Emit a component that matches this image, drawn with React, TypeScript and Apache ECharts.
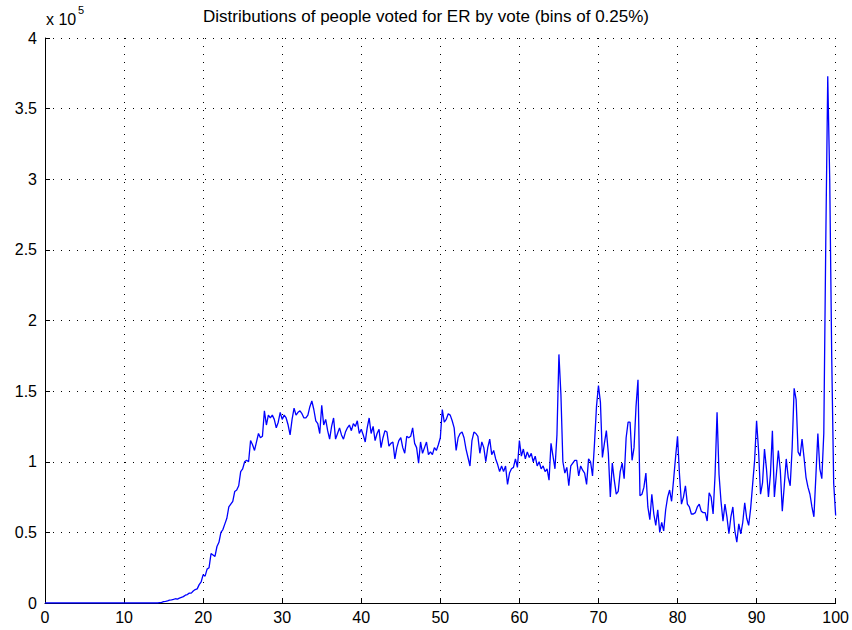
import React, { useEffect, useRef } from "react";
import * as echarts from "echarts";

// Bin width (percent of vote) and bin counts in units of 10^5 people, starting at 0%
const BIN = 0.25;
const X_TICKS = [0, 10, 20, 30, 40, 50, 60, 70, 80, 90, 100];
const Y_TICKS = [0, 0.5, 1, 1.5, 2, 2.5, 3, 3.5, 4];
const TITLE = "Distributions of people voted for ER by vote (bins of 0.25%)";

const counts: number[] = [
  // 0 - 4.75
  0, 0, 0, 0, 0, 0, 0, 0, 0, 0, 0, 0, 0, 0, 0, 0, 0, 0, 0, 0,
  // 5 - 9.75
  0, 0, 0, 0, 0, 0, 0, 0, 0, 0, 0, 0, 0, 0, 0, 0, 0, 0, 0, 0,
  // 10 - 14.75
  0, 0, 0, 0, 0, 0, 0, 0, 0, 0, 0, 0, 0, 0, 0, 0, 0, 0, 0.003, 0.005,
  // 15 - 19.75
  0.01, 0.012, 0.015, 0.02, 0.022, 0.025, 0.03, 0.028, 0.035, 0.04, 0.045, 0.055, 0.06, 0.07, 0.07, 0.085, 0.095, 0.1, 0.13, 0.15,
  // 20 - 24.75
  0.2, 0.19, 0.24, 0.25, 0.35, 0.34, 0.33, 0.4, 0.43, 0.5, 0.52, 0.56, 0.6, 0.68, 0.7, 0.72, 0.79, 0.8, 0.83, 0.93,
  // 25 - 29.75
  0.95, 1.0, 1.01, 1.0, 1.15, 1.12, 1.08, 1.14, 1.2, 1.17, 1.18, 1.36, 1.26, 1.33, 1.31, 1.33, 1.3, 1.24, 1.28, 1.35,
  // 30 - 34.75
  1.3, 1.33, 1.31, 1.26, 1.19, 1.3, 1.38, 1.33, 1.35, 1.36, 1.34, 1.31, 1.31, 1.33, 1.39, 1.43, 1.37, 1.29, 1.27, 1.2,
  // 35 - 39.75
  1.4, 1.26, 1.3, 1.22, 1.16, 1.25, 1.31, 1.16, 1.2, 1.24, 1.19, 1.16, 1.21, 1.24, 1.26, 1.22, 1.27, 1.25, 1.29, 1.2,
  // 40 - 44.75
  1.23, 1.19, 1.14, 1.24, 1.31, 1.2, 1.25, 1.15, 1.2, 1.23, 1.1, 1.17, 1.22, 1.21, 1.11, 1.13, 1.14, 1.02, 1.1, 1.15,
  // 45 - 49.75
  1.17, 1.1, 1.06, 1.18, 1.17, 1.18, 1.24, 1.13, 1.1, 0.99, 1.14, 1.06, 1.1, 1.14, 1.05, 1.07, 1.05, 1.1, 1.08, 1.12,
  // 50 - 54.75
  1.17, 1.37, 1.28, 1.3, 1.34, 1.33, 1.29, 1.24, 1.08, 1.17, 1.2, 1.21, 1.17, 1.09, 1.03, 0.97, 1.15, 1.21, 1.2, 1.18,
  // 55 - 59.75
  1.06, 1.14, 1.1, 1.0, 1.1, 1.16, 1.05, 1.08, 1.02, 0.98, 0.93, 0.97, 0.93, 0.97, 0.84, 0.92, 0.95, 0.96, 1.02, 0.96,
  // 60 - 64.75
  1.15, 1.04, 1.09, 1.02, 1.07, 1.03, 1.06, 1.0, 1.04, 0.97, 1.0, 0.95, 0.97, 0.93, 0.95, 0.87, 1.13, 1.04, 0.95, 1.19,
  // 65 - 69.75
  1.76, 1.48, 1.0, 0.92, 0.96, 0.83, 0.97, 0.99, 1.01, 1.01, 0.9, 0.97, 0.94, 0.92, 0.84, 1.02, 1.0, 0.9, 1.13, 1.39,
  // 70 - 74.75
  1.54, 1.42, 1.03, 1.13, 1.22, 1.06, 0.75, 0.99, 0.87, 0.77, 0.79, 0.93, 0.99, 0.88, 1.17, 1.28, 1.28, 1.01, 1.1, 1.39,
  // 75 - 79.75
  1.58, 0.76, 0.77, 0.82, 0.92, 0.68, 0.59, 0.77, 0.63, 0.55, 0.66, 0.5, 0.57, 0.51, 0.66, 0.75, 0.8, 0.72, 0.87, 1.03,
  // 80 - 84.75
  1.18, 0.91, 0.7, 0.75, 0.83, 0.7, 0.68, 0.63, 0.63, 0.64, 0.68, 0.7, 0.65, 0.64, 0.64, 0.58, 0.78, 0.75, 0.63, 0.91,
  // 85 - 89.75
  1.35, 0.91, 0.72, 0.58, 0.7, 0.61, 0.49, 0.61, 0.68, 0.51, 0.43, 0.56, 0.49, 0.57, 0.71, 0.6, 0.55, 0.67, 0.84, 1.01,
  // 90 - 94.75
  1.29, 1.08, 0.77, 0.85, 1.09, 0.95, 0.75, 0.91, 1.22, 0.75, 0.91, 1.08, 0.94, 0.65, 0.83, 1.02, 0.89, 0.83, 1.1, 1.52,
  // 95 - 99.75
  1.44, 1.07, 1.04, 1.16, 1.03, 0.89, 0.82, 0.77, 0.68, 0.61, 0.9, 1.2, 0.95, 0.88, 1.2, 2.55, 3.73, 3.0, 1.75, 0.85,
  // 100
  0.62,
];

const FONT = "'Liberation Sans Narrow', 'Arial Narrow', 'Liberation Sans', Arial, sans-serif";

export default function App() {
  const ref = useRef<HTMLDivElement>(null);

  useEffect(() => {
    if (!ref.current) return;
    const chart = echarts.init(ref.current, null, { renderer: "svg" });
    const data = counts.map((v, i) => [i * BIN, v]);
    const grid = { left: 45, right: 16, top: 38, bottom: 27 };

    chart.setOption({
      animation: false,
      backgroundColor: "#ffffff",
      title: {
        text: TITLE,
        left: "center",
        top: 3,
        textStyle: { fontFamily: FONT, fontSize: 17, fontWeight: "normal", color: "#000" },
      },
      grid,
      xAxis: {
        type: "value",
        min: X_TICKS[0],
        max: X_TICKS[X_TICKS.length - 1],
        interval: 10,
        axisLine: { lineStyle: { color: "#000", width: 1 } },
        axisTick: { inside: true, length: 5, lineStyle: { color: "#000" } },
        axisLabel: { color: "#000", fontFamily: FONT, fontSize: 16, margin: 6 },
        splitLine: { show: true, lineStyle: { color: "#000", width: 1, type: [1, 7] } },
      },
      yAxis: {
        type: "value",
        min: Y_TICKS[0],
        max: Y_TICKS[Y_TICKS.length - 1],
        interval: 0.5,
        axisLine: { show: true, lineStyle: { color: "#000", width: 1 } },
        axisTick: { show: true, inside: true, length: 5, lineStyle: { color: "#000" } },
        axisLabel: {
          color: "#000",
          fontFamily: FONT,
          fontSize: 16,
          margin: 8,
          formatter: (v: number) => String(v),
        },
        splitLine: { show: true, lineStyle: { color: "#000", width: 1, type: [1, 7] } },
      },
      series: [
        {
          type: "line",
          data,
          showSymbol: false,
          symbol: "none",
          lineStyle: { color: "#0000ff", width: 1.3 },
          itemStyle: { color: "#0000ff" },
        },
      ],
      graphic: [
        {
          type: "text",
          left: 46,
          top: 11,
          style: { text: "x 10", fontFamily: FONT, fontSize: 16, fill: "#000" },
        },
        {
          type: "text",
          left: 78,
          top: 4,
          style: { text: "5", fontFamily: FONT, fontSize: 11, fill: "#000" },
        },
      ],
    });

    return () => chart.dispose();
  }, []);

  return (
    <div
      ref={ref}
      style={{ position: "absolute", left: 0, top: 0, width: 852, height: 630 }}
    />
  );
}
